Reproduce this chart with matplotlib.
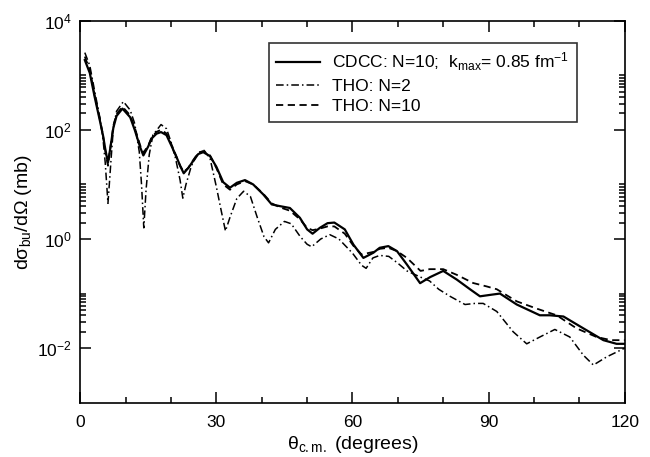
import numpy as np
import matplotlib
matplotlib.use("Agg")
import matplotlib.pyplot as plt

plt.rcParams["font.family"] = ["Liberation Sans", "DejaVu Sans"]
plt.rcParams["mathtext.fontset"] = "custom"
plt.rcParams["mathtext.rm"] = "Liberation Sans"
plt.rcParams["mathtext.it"] = "Liberation Sans:italic"
plt.rcParams["mathtext.bf"] = "Liberation Sans:bold"

# datos: theta (grados) y dsigma/dOmega (mb)
th_cdcc = [1.0, 2.1, 3.2, 4.3, 5.0, 5.5, 6.1, 6.6, 7.3, 8.0, 9.3, 11.0, 12.0, 13.2, 13.9,
           15.0, 15.7, 16.8, 17.8, 19.0, 20.1, 21.2, 22.0, 22.8, 23.8, 24.9, 26.0, 27.1,
           28.6, 30.0, 31.5, 33.0, 34.5, 36.3, 38.1, 40.3, 42.2, 44.0, 46.2, 48.4, 50.0,
           51.2, 52.8, 54.5, 56.0, 58.3, 60.2, 62.4, 64.6, 66.0, 67.9, 69.8, 72.0, 74.9,
           77.1, 80.0, 83.0, 85.9, 88.1, 90.5, 92.5, 96.2, 101.3, 103.5, 106.5, 110.9,
           115.3, 118.2, 120.0]
sig_cdcc = [1900, 1100, 390, 150, 80, 45, 25, 45, 110, 180, 245, 170, 100, 48, 34,
            50, 69, 85, 91, 80, 51, 32, 22, 16, 20, 27, 36, 39,
            33, 21, 11, 8.7, 10.7, 12, 10, 6.6, 4.3, 4.0, 3.7, 2.45, 1.5,
            1.25, 1.6, 1.95, 2.0, 1.5, 0.79, 0.45, 0.56, 0.69, 0.74, 0.6, 0.34, 0.155,
            0.2, 0.26, 0.18, 0.12, 0.089, 0.095, 0.10, 0.063, 0.04, 0.04, 0.038, 0.023,
            0.014, 0.012, 0.012]

th_n2 = [1.0, 2.1, 3.2, 4.3, 5.0, 5.5, 5.9, 6.1, 6.4, 6.8, 7.3, 8.0, 9.5, 11.0, 12.0,
         13.0, 13.5, 14.0, 14.5, 15.2, 16.0, 17.8, 19.0, 20.0, 21.0, 22.0, 22.6, 23.3,
         24.5, 26.0, 27.3, 28.6, 30.0, 31.0, 32.0, 33.0, 34.5, 36.0, 37.5, 39.0, 40.5,
         41.5, 43.0, 45.0, 46.5, 48.5, 50.0, 51.0, 53.0, 55.0, 57.0, 60.0, 62.0, 63.0,
         64.5, 66.0, 68.0, 70.0, 72.0, 75.0, 77.0, 79.0, 81.5, 84.8, 87.0, 88.8, 91.8,
         95.4, 98.4, 101.3, 104.6, 107.9, 110.9, 113.1, 116.0, 120.0]
sig_n2 = [2600, 1500, 500, 170, 70, 25, 8, 4.5, 10, 30, 110, 220, 330, 230, 130,
          40, 10, 1.6, 8, 35, 80, 125, 105, 60, 30, 12, 5.6, 10,
          22, 38, 42, 30, 9, 3.5, 1.4, 2.5, 5.5, 7.5, 6.0, 2.5, 1.1,
          0.85, 1.5, 2.1, 1.9, 1.1, 0.8, 0.72, 1.0, 1.2, 1.0, 0.55, 0.33, 0.29,
          0.45, 0.5, 0.48, 0.36, 0.26, 0.2, 0.17, 0.12, 0.089, 0.063, 0.066, 0.066, 0.047,
          0.02, 0.012, 0.016, 0.022, 0.016, 0.0074, 0.0049, 0.0069, 0.01]

th_n10 = [1.0, 2.1, 3.2, 4.3, 5.0, 5.5, 6.1, 6.6, 7.3, 8.0, 9.3, 11.0, 12.0, 13.2, 13.9,
          15.0, 15.7, 16.8, 17.8, 19.0, 20.1, 21.2, 22.0, 22.8, 23.8, 24.9, 26.0, 27.1,
          28.6, 30.0, 31.5, 33.0, 34.5, 36.3, 38.1, 40.3, 42.2, 44.0, 46.2, 48.4, 50.0,
          51.2, 52.8, 54.5, 56.0, 58.3, 60.2, 62.0, 64.6, 66.0, 67.9, 69.8, 72.0, 75.0,
          77.0, 80.0, 83.0, 86.6, 89.6, 91.8, 96.2, 100.6, 105.0, 109.4, 113.8, 117.0,
          120.0]
sig_n10 = [2200, 1250, 420, 160, 80, 42, 22, 45, 120, 195, 265, 185, 110, 52, 38,
           52, 72, 92, 100, 86, 54, 32, 22, 17, 20, 28, 38, 41,
           34, 20, 10, 8.0, 10, 11.5, 10, 6.8, 4.5, 3.8, 3.3, 2.3, 1.6,
           1.45, 1.55, 1.7, 1.7, 1.25, 0.75, 0.52, 0.58, 0.66, 0.69, 0.6, 0.45, 0.26,
           0.28, 0.28, 0.22, 0.156, 0.135, 0.12, 0.072, 0.053, 0.04, 0.023, 0.016, 0.014,
           0.014]

x_major = [0, 30, 60, 90, 120]
x_minor = [10, 20, 40, 50, 70, 80, 100, 110]
y_major = [1e-2, 1e0, 1e2, 1e4]
y_labels = [r"$10^{-2}$", r"$10^{0}$", r"$10^{2}$", r"$10^{4}$"]

fig = plt.figure(figsize=(6.5, 4.57), dpi=100)
ax = fig.add_axes([0.1235, 0.1188, 0.8376, 0.8359])

ax.plot(th_cdcc, sig_cdcc, color="black", lw=1.6, ls="-",
        label=r"CDCC: N=10;  k$_{\rm max}$= 0.85 fm$^{-1}$")
ax.plot(th_n2, sig_n2, color="black", lw=1.1, ls=(0, (5, 2, 1, 2)),
        label="THO: N=2")
ax.plot(th_n10, sig_n10, color="black", lw=1.3, ls=(0, (4, 2.5)),
        label="THO: N=10")

ax.set_yscale("log")
ax.set_xlim(0, 120)
ax.set_ylim(1e-3, 1e4)

ax.set_xticks(x_major)
ax.set_xticks(x_minor, minor=True)
ax.set_yticks(y_major)
ax.set_yticklabels(y_labels)
y_minor = [m * 10.0**k for k in (-2, 0, 2) for m in range(2, 11)]
ax.set_yticks(y_minor, minor=True)
ax.yaxis.set_minor_formatter(matplotlib.ticker.NullFormatter())

ax.tick_params(which="both", direction="in", top=True, right=True, labelsize=12.5, width=1.1)
ax.tick_params(which="major", length=8, pad=6)
ax.tick_params(axis="x", which="major", pad=9)
ax.tick_params(which="minor", length=4)
for s in ax.spines.values():
    s.set_linewidth(1.2)

ax.set_xlabel(r"θ$_{\rm c.m.}$ (degrees)", fontsize=14, labelpad=3)
ax.set_ylabel(r"dσ$_{\rm bu}$/dΩ (mb)", fontsize=14, labelpad=2)

leg = ax.legend(loc="upper right", bbox_to_anchor=(0.912, 0.9416), fontsize=12.5,
                frameon=True, fancybox=False, edgecolor="black", handlelength=2.5,
                handletextpad=0.7, labelspacing=0.3, borderpad=0.45, borderaxespad=0)
leg.get_frame().set_linewidth(1.2)

fig.savefig("out.png", dpi=100)
